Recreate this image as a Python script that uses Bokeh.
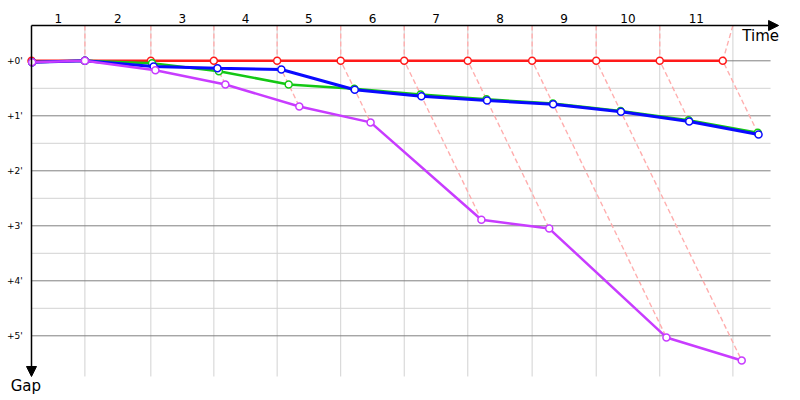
from bokeh.plotting import figure
from bokeh.models import Range1d, Arrow, NormalHead, Label
from bokeh.core.properties import value
from bokeh.embed import file_html
from bokeh.resources import INLINE

# ---- data -------------------------------------------------------------
laps = [1, 2, 3, 4, 5, 6, 7, 8, 9, 10, 11]
# time at which each lap column ends (vertical grid lines)
lap_ends = [2.00, 4.47, 6.83, 9.20, 11.58, 13.96, 16.34, 18.75, 21.15, 23.53, 26.27]
# leader crossing times, start (index 0) and laps 1..11
leader_times = [0.0, 2.00, 4.47, 6.83, 9.20, 11.58, 13.96, 16.34, 18.75, 21.15, 23.53, 25.89]

# gaps to the leader (start, lap 1, lap 2, ...)
gap_red = [0, 0, 0, 0, 0, 0, 0, 0, 0, 0, 0, 0]
gap_green = [0.025, 0, 0.044, 0.189, 0.431, 0.509, 0.613, 0.70, 0.776, 0.913, 1.08, 1.31]
gap_blue = [0.025, 0, 0.104, 0.135, 0.158, 0.527, 0.644, 0.722, 0.789, 0.927, 1.104, 1.34]
gap_purple = [0.025, 0, 0.171, 0.431, 0.831, 1.12, 2.89, 3.05, 5.03, 5.45]

gap_ticks = [0, 1, 2, 3, 4, 5]
gap_labels = ["+0'", "+1'", "+2'", "+3'", "+4'", "+5'"]
gap_minor = [0.5, 1.5, 2.5, 3.5, 4.5]

series = [
    (gap_red, "#ff1a1a", 2.5),
    (gap_green, "#14c814", 2.5),
    (gap_blue, "#0a0aff", 3.0),
    (gap_purple, "#c83cff", 2.5),
]

# ---- layout -----------------------------------------------------------
X_AXIS_END = 27.98      # time axis arrow tip
Y_AXIS_TOP = -0.642     # gap level of the time axis
Y_AXIS_END = 5.74       # gap axis arrow tip
H_LINE_END = 27.68
FONT = "DejaVu Sans"

p = figure(width=800, height=400,
           x_range=Range1d(-1.161, 28.801), y_range=Range1d(6.1764, -1.0964),
           x_axis_location=None, y_axis_location=None,
           output_backend="svg", toolbar_location=None,
           min_border=0, min_border_left=0, min_border_right=0,
           min_border_top=0, min_border_bottom=0)
p.outline_line_color = None
p.xgrid.visible = False
p.ygrid.visible = False
p.background_fill_color = "white"
p.border_fill_color = "white"

# grid lines
p.segment(x0=lap_ends, y0=[Y_AXIS_TOP] * len(lap_ends), x1=lap_ends, y1=[Y_AXIS_END] * len(lap_ends),
          line_color="#d2d2d2", line_width=1)
p.segment(x0=[0] * len(gap_minor), y0=gap_minor, x1=[H_LINE_END] * len(gap_minor), y1=gap_minor,
          line_color="#d2d2d2", line_width=1)
p.segment(x0=[0] * len(gap_ticks), y0=gap_ticks, x1=[H_LINE_END] * len(gap_ticks), y1=gap_ticks,
          line_color="#808080", line_width=1)

# dashed lap connectors
dxs, dys = [], []
for i in range(1, len(laps) + 1):
    xs = [lap_ends[i - 1], leader_times[i]]
    ys = [Y_AXIS_TOP, 0]
    gaps_i = [g[i] for g, _, _ in series if len(g) > i]
    mg = max(gaps_i)
    if mg > 0:
        xs.append(leader_times[i] + mg)
        ys.append(mg)
    dxs.append(xs)
    dys.append(ys)
p.multi_line(dxs, dys, line_color="#ffaeae", line_width=1.4, line_dash="5 3")

# series
for gaps, color, lw in series:
    xs = [leader_times[k] + g for k, g in enumerate(gaps)]
    p.line(xs, gaps, line_color=color, line_width=lw)
    p.scatter(xs, gaps, marker="circle", size=7, fill_color="white",
              line_color=color, line_width=1.5)

# axes with arrows
p.add_layout(Arrow(end=NormalHead(size=10, fill_color="black", line_color="black"),
                   x_start=0, y_start=Y_AXIS_TOP, x_end=X_AXIS_END, y_end=Y_AXIS_TOP,
                   line_color="black", line_width=1.5))
p.add_layout(Arrow(end=NormalHead(size=10, fill_color="black", line_color="black"),
                   x_start=0, y_start=Y_AXIS_TOP, x_end=0, y_end=Y_AXIS_END,
                   line_color="black", line_width=1.5))

# tick labels
mids = [(a + b) / 2 for a, b in zip([0.0] + lap_ends[:-1], lap_ends)]
p.text(x=mids, y=[-0.77] * len(mids), text=[str(l) for l in laps],
       text_font=value(FONT), text_font_size="12px", text_color="black",
       text_align="center", text_baseline="middle")
p.text(x=[-0.33] * len(gap_ticks), y=gap_ticks, text=gap_labels,
       text_font=value(FONT), text_font_size="9px", text_color="black",
       text_align="right", text_baseline="middle")

# axis titles
p.add_layout(Label(x=26.62, y=-0.62, text="Time", text_font=FONT, text_font_size="15px",
                   text_align="left", text_baseline="top", text_color="black"))
p.add_layout(Label(x=-0.78, y=5.75, text="Gap", text_font=FONT, text_font_size="15px",
                   text_align="left", text_baseline="top", text_color="black"))

open("out.html", "w").write(file_html(p, INLINE))
